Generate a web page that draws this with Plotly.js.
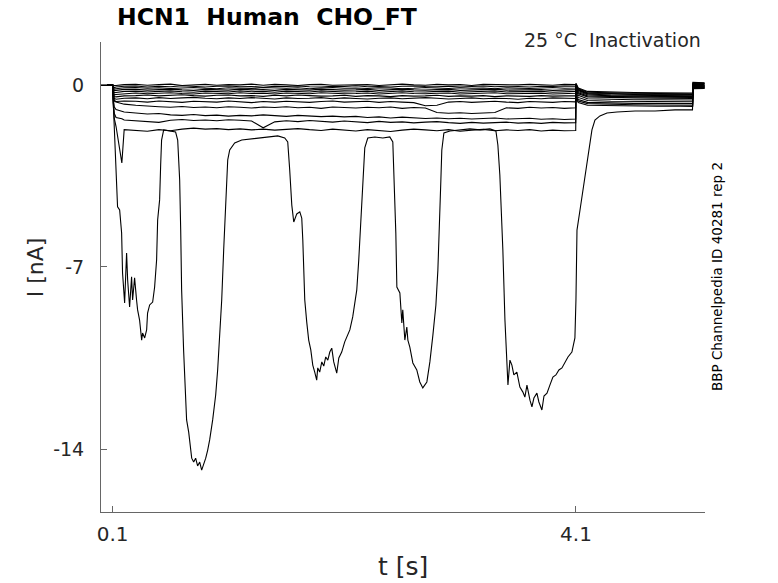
<!DOCTYPE html>
<html>
<head>
<meta charset="utf-8">
<script src="https://cdn.plot.ly/plotly-3.0.1.min.js"></script>
<style>
  html, body { margin: 0; padding: 0; background: #fff; }
  #chart { width: 778px; height: 583px; }
</style>
</head>
<body>
<div id="chart"></div>
<script>
// time grid (s) shared by the small, steady sweeps
const tGrid = [0, 0.05, 0.098,
  0.1, 0.105, 0.115, 0.13, 0.18, 0.2,
  0.3, 0.4, 0.5, 0.6, 0.7, 0.8, 0.9, 1.0, 1.1, 1.2, 1.3, 1.4, 1.5, 1.6, 1.7, 1.8, 1.9,
  2.0, 2.1, 2.2, 2.3, 2.4, 2.5, 2.6, 2.7, 2.8, 2.9, 3.0, 3.1, 3.2, 3.3, 3.4, 3.5, 3.6, 3.7, 3.8, 3.9, 4.0,
  4.098,
  4.1, 4.12, 4.2, 4.4, 4.6, 4.8, 5.0, 5.108,
  5.11, 5.21];

// current (nA) of each sweep
const sweep01 = [0, 0, 0.01,
  0, -0.02, -0.03, -0.02, 0, 0.01,
  0.02, -0.01, 0.01, 0.03, -0.02, 0, 0.02, -0.01, 0.01, 0, 0.03, -0.01, 0.02, 0, -0.02, 0.01, 0.02,
  -0.01, 0, 0.02, 0.01, -0.02, 0.01, 0.03, 0, -0.01, 0.02, 0, 0.01, -0.02, 0.02, 0.01, -0.01, 0, 0.02, 0.01, -0.01, 0.02,
  0.01,
  0.06, -0.12, -0.25, -0.28, -0.29, -0.3, -0.3, -0.31,
  0.1, 0.08];
const sweep02 = [0, -0.01, 0,
  0, -0.06, -0.1, -0.08, -0.06, -0.05,
  -0.04, -0.08, -0.05, -0.07, -0.03, -0.06, -0.08, -0.05, -0.04, -0.07, -0.06, -0.09, -0.05, -0.06, -0.04, -0.07, -0.08,
  -0.05, -0.06, -0.03, -0.07, -0.06, -0.08, -0.05, -0.04, -0.06, -0.07, -0.05, -0.08, -0.06, -0.04, -0.07, -0.05, -0.06, -0.08, -0.05, -0.06, -0.04,
  -0.05,
  0.04, -0.15, -0.28, -0.31, -0.32, -0.33, -0.33, -0.34,
  0.08, 0.06];
const sweep03 = [0, 0, -0.01,
  0, -0.1, -0.16, -0.15, -0.13, -0.11,
  -0.1, -0.13, -0.11, -0.14, -0.12, -0.1, -0.13, -0.15, -0.11, -0.12, -0.14, -0.1, -0.12, -0.13, -0.11, -0.15, -0.12,
  -0.1, -0.13, -0.12, -0.14, -0.11, -0.12, -0.15, -0.13, -0.1, -0.12, -0.14, -0.11, -0.13, -0.12, -0.15, -0.11, -0.12, -0.14, -0.12, -0.1, -0.13,
  -0.12,
  0.02, -0.18, -0.31, -0.34, -0.35, -0.36, -0.36, -0.37,
  0.05, 0.04];
const sweep04 = [0, -0.01, 0,
  0, -0.14, -0.22, -0.21, -0.19, -0.17,
  -0.17, -0.2, -0.18, -0.16, -0.19, -0.21, -0.17, -0.18, -0.2, -0.16, -0.19, -0.18, -0.21, -0.17, -0.19, -0.2, -0.16,
  -0.18, -0.2, -0.19, -0.17, -0.21, -0.18, -0.16, -0.19, -0.2, -0.18, -0.17, -0.21, -0.19, -0.18, -0.16, -0.2, -0.19, -0.17, -0.18, -0.21, -0.19,
  -0.18,
  0, -0.2, -0.33, -0.36, -0.37, -0.38, -0.38, -0.39,
  0.03, 0.02];
const sweep05 = [0, 0, -0.01,
  0, -0.18, -0.3, -0.29, -0.27, -0.25,
  -0.24, -0.27, -0.25, -0.23, -0.26, -0.28, -0.24, -0.25, -0.27, -0.23, -0.26, -0.25, -0.28, -0.24, -0.26, -0.27, -0.23,
  -0.25, -0.27, -0.26, -0.24, -0.28, -0.25, -0.23, -0.26, -0.27, -0.25, -0.24, -0.28, -0.26, -0.25, -0.23, -0.27, -0.26, -0.24, -0.25, -0.28, -0.26,
  -0.25,
  -0.02, -0.22, -0.35, -0.39, -0.4, -0.41, -0.41, -0.42,
  0, -0.01];
const sweep06 = [0, -0.01, 0,
  0, -0.22, -0.38, -0.37, -0.35, -0.33,
  -0.31, -0.34, -0.32, -0.3, -0.33, -0.35, -0.31, -0.32, -0.34, -0.3, -0.33, -0.32, -0.35, -0.31, -0.33, -0.34, -0.3,
  -0.32, -0.34, -0.33, -0.31, -0.35, -0.32, -0.3, -0.33, -0.34, -0.32, -0.31, -0.35, -0.33, -0.32, -0.3, -0.34, -0.33, -0.31, -0.32, -0.35, -0.33,
  -0.32,
  -0.05, -0.26, -0.38, -0.42, -0.43, -0.44, -0.44, -0.45,
  -0.02, -0.03];
const sweep07 = [0, 0, -0.01,
  0, -0.26, -0.45, -0.46, -0.44, -0.42,
  -0.41, -0.39, -0.42, -0.4, -0.38, -0.41, -0.43, -0.4, -0.39, -0.42, -0.41, -0.44, -0.4, -0.42, -0.39, -0.41, -0.43,
  -0.42, -0.4, -0.44, -0.41, -0.42, -0.45, -0.41, -0.43, -0.42, -0.4, -0.44, -0.42, -0.43, -0.41, -0.45, -0.42, -0.43, -0.44, -0.41, -0.43, -0.42,
  -0.42,
  -0.08, -0.3, -0.42, -0.45, -0.46, -0.47, -0.47, -0.48,
  -0.04, -0.05];
const sweep08 = [0, -0.01, 0,
  0, -0.3, -0.52, -0.55, -0.53, -0.51,
  -0.5, -0.53, -0.49, -0.52, -0.5, -0.48, -0.51, -0.53, -0.5, -0.52, -0.49, -0.51, -0.54, -0.5, -0.52, -0.51, -0.49,
  -0.53, -0.5, -0.52, -0.54, -0.51, -0.5, -0.53, -0.52, -0.49, -0.51, -0.54, -0.52, -0.5, -0.53, -0.51, -0.52, -0.55, -0.51, -0.53, -0.5, -0.52,
  -0.52,
  -0.12, -0.34, -0.46, -0.49, -0.5, -0.51, -0.51, -0.52,
  -0.06, -0.07];
const sweep09 = [0, 0, -0.01,
  0, -0.35, -0.6, -0.64, -0.63, -0.62,
  -0.63, -0.66, -0.62, -0.65, -0.67, -0.63, -0.64, -0.66, -0.62, -0.65, -0.68, -0.64, -0.66, -0.63, -0.65, -0.67, -0.64,
  -0.62, -0.66, -0.65, -0.63, -0.67, -0.64, -0.66, -0.68, -0.8, -0.78, -0.66, -0.64, -0.67, -0.65, -0.63, -0.66, -0.68, -0.64, -0.65, -0.67, -0.64,
  -0.65,
  -0.2, -0.4, -0.53, -0.56, -0.57, -0.57, -0.58, -0.58,
  -0.08, -0.09];
const sweep10 = [0, -0.01, 0,
  0, -0.4, -0.62, -0.66, -0.7, -0.74,
  -0.78, -0.82, -0.84, -0.86, -0.83, -0.87, -0.85, -0.88, -0.84, -0.86, -0.89, -0.85, -0.87, -0.84, -0.88, -0.86, -0.9,
  -0.85, -0.87, -0.89, -0.86, -0.88, -0.85, -0.9, -0.87, -0.89, -1.06, -1.09, -1.07, -1.1, -1.08, -1.06, -0.88, -0.9, -0.86, -0.89, -0.87, -0.9,
  -0.88,
  -0.28, -0.48, -0.6, -0.63, -0.64, -0.64, -0.65, -0.65,
  -0.1, -0.1];
const sweep11 = [0, 0, -0.01,
  0, -0.5, -0.85, -0.95, -1.0, -1.04,
  -1.08, -1.12, -1.1, -1.15, -1.17, -1.14, -1.18, -1.16, -1.2, -1.17, -1.19, -1.15, -1.18, -1.21, -1.17, -1.19, -1.22,
  -1.2, -1.23, -1.21, -1.25, -1.23, -1.27, -1.24, -1.26, -1.29, -1.27, -1.3, -1.28, -1.31, -1.29, -1.27, -1.31, -1.3, -1.28, -1.32, -1.3, -1.33,
  -1.31,
  -0.38, -0.56, -0.67, -0.7, -0.71, -0.71, -0.72, -0.72,
  -0.12, -0.11];
const sweep12 = [0, -0.01, 0,
  0, -0.6, -1.1, -1.25, -1.3, -1.35,
  -1.38, -1.42, -1.44, -1.36, -1.33, -1.37, -1.35, -1.38, -1.34, -1.36, -1.39, -1.65, -1.42, -1.38, -1.41, -1.37, -1.4,
  -1.43, -1.39, -1.42, -1.45, -1.4, -1.44, -1.42, -1.46, -1.43, -1.41, -1.45, -1.48, -1.44, -1.47, -1.45, -1.43, -1.47, -1.45, -1.48, -1.44, -1.46,
  -1.45,
  -0.45, -0.62, -0.72, -0.75, -0.76, -0.77, -0.77, -0.78,
  -0.14, -0.13];
const sweep13 = [0, 0, -0.01,
  0, -0.7, -1.3, -1.6, -3.0, -1.72,
  -1.75, -1.78, -1.72, -1.76, -1.7, -1.66, -1.7, -1.68, -1.72, -1.69, -1.73, -1.7, -1.74, -1.71, -1.68, -1.72, -1.75,
  -1.7, -1.73, -1.77, -1.72, -1.75, -1.79, -1.74, -1.7, -1.73, -1.76, -1.72, -1.78, -1.74, -1.71, -1.76, -1.73, -1.75, -1.72, -1.77, -1.74, -1.76,
  -1.75,
  -0.5, -0.68, -0.78, -0.8, -0.81, -0.82, -0.82, -0.83,
  -0.15, -0.14];

// the unstable sweep with the big inward excursions
const deepT = [0, 0.098, 0.1, 0.109, 0.117, 0.126, 0.135, 0.143, 0.161, 0.178, 0.186, 0.204,
  0.221, 0.23, 0.247, 0.264, 0.273, 0.29, 0.307, 0.316, 0.333, 0.351, 0.359, 0.377, 0.394, 0.402,
  0.42, 0.446, 0.463, 0.48, 0.489, 0.506, 0.515, 0.523, 0.541, 0.592, 0.644,
  0.662, 0.679, 0.688, 0.696, 0.713, 0.731, 0.739, 0.757, 0.765, 0.774, 0.783, 0.8, 0.817, 0.834,
  0.852, 0.869, 0.886, 0.904, 0.921, 0.938, 0.964, 0.99, 1.007, 1.024, 1.042, 1.059, 1.076, 1.085,
  1.094, 1.111, 1.154, 1.215, 1.284, 1.37, 1.456, 1.526, 1.586,
  1.612, 1.629, 1.647, 1.664, 1.69, 1.716, 1.733, 1.742, 1.75, 1.759, 1.776, 1.793, 1.811, 1.828,
  1.845, 1.862, 1.871, 1.888, 1.906, 1.923, 1.94, 1.958, 1.975, 1.992, 2.009, 2.035, 2.053, 2.078,
  2.104, 2.122, 2.148, 2.173, 2.191, 2.208, 2.225, 2.243, 2.26, 2.277, 2.303, 2.364, 2.433, 2.493,
  2.519, 2.528, 2.536, 2.545, 2.554, 2.58, 2.597, 2.605, 2.623, 2.64, 2.649, 2.666, 2.692, 2.726,
  2.752, 2.778, 2.813, 2.839, 2.865, 2.891, 2.908, 2.925, 2.934, 2.942, 2.96, 3.012, 3.098, 3.184,
  3.271, 3.357, 3.409, 3.426, 3.443, 3.452, 3.469, 3.487, 3.495, 3.513, 3.53, 3.547, 3.564, 3.59,
  3.616, 3.642, 3.659, 3.677, 3.703, 3.72, 3.737, 3.763, 3.78, 3.806, 3.824, 3.85, 3.875, 3.901,
  3.927, 3.953, 3.979, 4.005, 4.031, 4.065, 4.091, 4.1, 4.109, 4.135, 4.161, 4.195, 4.221, 4.238,
  4.264, 4.307, 4.368, 4.454, 4.61, 4.783, 4.955, 5.106, 5.11, 5.214];
const deepI = [0, 0, -0.04, -0.96, -1.54, -2.5, -3.65, -4.69, -4.81, -5.69, -7.23, -8.38,
  -6.46, -7.5, -8.54, -7.38, -8.27, -7.42, -8.27, -8.65, -9.04, -9.81, -9.54, -9.73, -9.42, -8.77,
  -8.46, -8.35, -7.77, -6.73, -5.19, -4.42, -3.08, -2.12, -1.73, -1.77, -1.81,
  -2.12, -3.65, -5.58, -7.88, -10.19, -12.12, -12.88, -13.35, -13.65, -14.12, -14.35, -14.5, -14.35, -14.65,
  -14.5, -14.81, -14.62, -14.35, -14.04, -13.65, -12.88, -11.92, -10.96, -9.81, -8.27, -6.35, -4.42, -3.46,
  -2.88, -2.5, -2.23, -2.12, -2.08, -2.04, -2.0, -1.96, -2.04,
  -2.19, -3.27, -4.62, -5.27, -4.96, -4.88, -5.12, -5.96, -6.81, -8.27, -9.12, -9.81, -10.19, -10.77,
  -11.04, -11.35, -10.88, -11.04, -10.65, -10.81, -10.46, -10.58, -10.27, -10.12, -10.65, -11.08, -10.5, -10.27,
  -9.88, -9.69, -9.42, -8.92, -8.46, -7.88, -6.73, -5.19, -3.65, -2.42, -2.04, -2.0, -2.04, -2.0,
  -2.19, -3.27, -4.42, -5.69, -7.77, -8.0, -9.15, -8.65, -9.81, -9.31, -9.81, -10.08, -10.69, -10.96,
  -11.42, -11.65, -11.42, -10.65, -9.62, -8.46, -7.12, -5.19, -3.65, -2.5, -1.85, -1.77, -1.73, -1.69,
  -1.73, -1.69, -1.77, -2.31, -3.46, -4.42, -6.35, -9.04, -10.0, -11.54, -10.58, -10.77, -11.15, -11.04,
  -11.62, -11.81, -12.0, -11.54, -12.12, -12.38, -12.04, -11.85, -12.19, -12.5, -11.96, -11.85, -11.54, -11.23,
  -11.15, -10.96, -10.88, -10.65, -10.46, -10.27, -9.73, -8.27, -5.58, -4.81, -4.04, -3.0, -2.12, -1.73,
  -1.35, -1.19, -1.08, -1.04, -1.0, -1.0, -0.96, -0.96, -0.04, -0.04];

const xTicks = [0.1, 4.1];
const yTicks = [0, -7, -14];

const sweeps = [sweep01, sweep02, sweep03, sweep04, sweep05, sweep06, sweep07,
  sweep08, sweep09, sweep10, sweep11, sweep12, sweep13];

let data = sweeps.map(function(s) {
  return {x: tGrid, y: s, type: 'scatter', mode: 'lines',
          line: {color: '#000', width: 1.1}, hoverinfo: 'skip'};
});
data.push({x: deepT, y: deepI, type: 'scatter', mode: 'lines',
           line: {color: '#000', width: 1.1}, hoverinfo: 'skip'});

const font = 'DejaVu Sans, sans-serif';
const textColor = '#262626';
const axisColor = '#666';

let layout = {
  width: 778,
  height: 583,
  margin: {l: 101, r: 73, t: 42, b: 71},
  paper_bgcolor: '#fff',
  plot_bgcolor: '#fff',
  showlegend: false,
  font: {family: font, color: textColor},
  xaxis: {
    range: [0, 5.214],
    tickvals: xTicks,
    ticktext: xTicks.map(String),
    ticks: 'inside', ticklen: 6, tickwidth: 1, tickcolor: axisColor,
    showline: true, linecolor: axisColor, linewidth: 1,
    showgrid: false, zeroline: false,
    tickfont: {size: 20, color: textColor, family: font},
    ticklabelstandoff: 4
  },
  yaxis: {
    range: [-16.42, 1.65],
    tickvals: yTicks,
    ticktext: yTicks.map(String),
    ticks: 'inside', ticklen: 6, tickwidth: 1, tickcolor: axisColor,
    showline: true, linecolor: axisColor, linewidth: 1,
    showgrid: false, zeroline: false,
    tickfont: {size: 19, color: textColor, family: font},
    ticklabelstandoff: 12
  },
  annotations: [
    {text: '<b>HCN1\u00a0\u00a0Human\u00a0\u00a0CHO_FT</b>', xref: 'paper', yref: 'paper',
     x: 0.023, y: 1.053, xanchor: 'left', yanchor: 'middle', showarrow: false,
     font: {size: 23.5, color: '#000', family: font}},
    {text: '25 °C\u00a0\u00a0Inactivation', xref: 'paper', yref: 'paper',
     x: 0.997, y: 1.004, xanchor: 'right', yanchor: 'middle', showarrow: false,
     font: {size: 19, color: textColor, family: font}},
    {text: 'BBP Channelpedia ID 40281 rep 2', xref: 'paper', yref: 'paper',
     x: 1.02, y: 0.5, xanchor: 'center', yanchor: 'middle', showarrow: false,
     textangle: -90, font: {size: 13.5, color: '#000', family: font}},
    {text: 't [s]', xref: 'paper', yref: 'paper',
     x: 0.5, y: -0.117, xanchor: 'center', yanchor: 'middle', showarrow: false,
     font: {size: 25, color: textColor, family: font}},
    {text: 'I [nA]', xref: 'paper', yref: 'paper',
     x: -0.109, y: 0.521, xanchor: 'center', yanchor: 'middle', showarrow: false,
     textangle: -90, font: {size: 22, color: textColor, family: font}}
  ]
};

Plotly.newPlot('chart', data, layout, {staticPlot: true, displayModeBar: false});
</script>
</body>
</html>
